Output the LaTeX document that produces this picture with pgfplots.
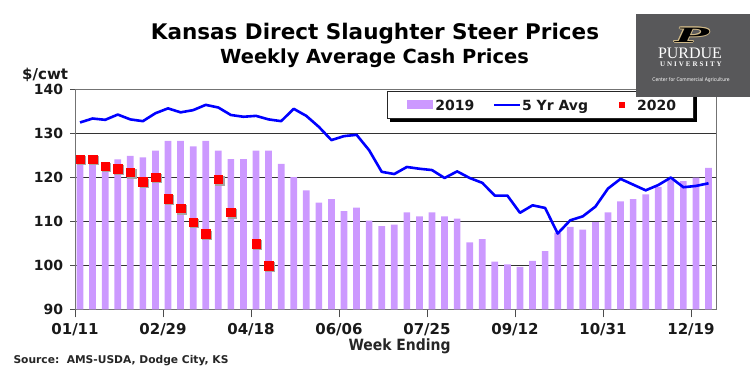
\documentclass[border=0pt]{standalone}
\usepackage{fontspec}
\usepackage{graphicx}
\usepackage{pgfplots}
\pgfplotsset{compat=1.18}
\setmainfont{DejaVu Sans}
\newfontfamily\condfont{DejaVu Sans Condensed}
\newfontfamily\seriffont{Liberation Serif}
\newfontfamily\unifont{Liberation Serif}[LetterSpace=28]
\definecolor{barpurple}{RGB}{204,153,255}
\definecolor{lineblue}{RGB}{0,0,255}
\definecolor{purduegray}{RGB}{88,88,90}
\definecolor{purduegold}{RGB}{206,184,136}

\pgfplotstableread{
x y
0.4 124.3
1.4 124.0
2.4 122.8
3.4 124.0
4.4 124.8
5.4 124.5
6.4 126.0
7.4 128.2
8.4 128.2
9.4 127.0
10.4 128.2
11.4 126.0
12.4 124.1
13.4 124.1
14.4 126.0
15.4 126.0
16.4 123.0
17.4 120.0
18.4 117.0
19.4 114.2
20.4 115.0
21.4 112.3
22.4 113.1
23.4 110.1
24.4 108.9
25.4 109.2
26.4 112.0
27.4 111.1
28.4 112.0
29.4 111.1
30.4 110.6
31.4 105.2
32.4 105.9
33.4 100.8
34.4 100.2
35.4 99.6
36.4 101.0
37.4 103.2
38.4 107.4
39.4 108.7
40.4 108.1
41.4 109.8
42.4 112.0
43.4 114.5
44.4 115.0
45.4 116.1
46.4 117.8
47.4 119.3
48.4 119.1
49.4 119.9
50.4 122.1
}\bars

\pgfplotstableread{
x y
0.4 132.4
1.4 133.3
2.4 133.0
3.4 134.2
4.4 133.1
5.4 132.7
6.4 134.5
7.4 135.6
8.4 134.7
9.4 135.2
10.4 136.4
11.4 135.8
12.4 134.1
13.4 133.7
14.4 133.9
15.4 133.1
16.4 132.7
17.4 135.5
18.4 133.9
19.4 131.4
20.4 128.4
21.4 129.3
22.4 129.6
23.4 126.1
24.4 121.2
25.4 120.7
26.4 122.3
27.4 121.9
28.4 121.6
29.4 119.8
30.4 121.3
31.4 119.8
32.4 118.7
33.4 115.8
34.4 115.8
35.4 111.9
36.4 113.6
37.4 113.0
38.4 107.2
39.4 110.2
40.4 111.1
41.4 113.3
42.4 117.4
43.4 119.6
44.4 118.3
45.4 117.0
46.4 118.2
47.4 119.9
48.4 117.7
49.4 118.0
50.4 118.6
}\fiveyr

\pgfplotstableread{
x y
0.4 124.1
1.4 124.1
2.4 122.5
3.4 121.9
4.4 121.1
5.4 118.9
6.4 120.0
7.4 115.1
8.4 112.9
9.4 109.8
10.4 107.1
11.4 119.5
12.4 112.0
14.4 104.9
15.4 99.9
}\twenty

\begin{document}
\begin{tikzpicture}[x=1pt,y=1pt]
\begin{axis}[
  at={(75pt,64.7pt)}, anchor=south west,
  width=641.7pt, height=220.3pt, scale only axis,
  xmin=0, xmax=51.05, ymin=90, ymax=140,
  xtick={0,7,14,21,28,35,42,49},
  xticklabels={01/11,02/29,04/18,06/06,07/25,09/12,10/31,12/19},
  ytick={90,100,110,120,130,140},
  ymajorgrids,
  major grid style={black!80, line width=0.8pt},
  axis line style={black!55, line width=0.8pt},
  tick pos=left, tick align=outside,
  xtick style={black!70, line width=0.8pt, /pgfplots/major tick length=8pt},
  ytick style={black!70, line width=0.8pt, /pgfplots/major tick length=5pt},
  /pgf/number format/assume math mode=true,
  yticklabel style={font=\bfseries\fontsize{14}{14}\selectfont, text=black!90, xshift=-4pt},
  xticklabel style={font=\bfseries\fontsize{15}{15}\selectfont, text=black!90, yshift=-6pt},
  xlabel={Week Ending},
  xlabel style={font=\condfont\bfseries\fontsize{15.5}{15.5}\selectfont, at={(axis description cs:0.5057,-0.1848)}, anchor=base, inner sep=0pt, text=black!85},
  ylabel={\$/cwt},
  ylabel style={font=\bfseries\fontsize{15}{15}\selectfont, at={(axis description cs:-0.0826,1.045)}, anchor=base west, rotate=-90, inner sep=0pt, text=black!90},
  clip mode=individual,
  legend columns=3,
  legend cell align=left,
  legend style={name=leg, at={(axis description cs:0.4867,0.9909)}, anchor=north west,
    draw=black!85, line width=0.8pt, fill=white, inner xsep=0pt, inner ysep=8.5pt,
    font=\bfseries\fontsize{14}{14}\selectfont, text=black!90,
    nodes={inner sep=0pt, text height=10.2pt, text depth=0pt}},
]
\addplot[ybar, bar width=6.7pt, bar shift=0pt, fill=barpurple, draw=none,
  legend image code/.code={\path[draw=none,fill=none] (0pt,-1pt) rectangle (47.7pt,1pt); \fill[barpurple] (19.4pt,-4.5pt) rectangle (45pt,4.5pt);}]
  table[x=x,y=y] {\bars};
\addlegendentry{2019}
\addplot[lineblue, line width=2.6pt, line join=round, mark=none,
  legend image code/.code={\path[draw=none,fill=none] (0pt,-1pt) rectangle (47.7pt,1pt); \draw[lineblue, line width=2.2pt] (20pt,0pt) -- (46pt,0pt);}]
  table[x=x,y=y] {\fiveyr};
\addlegendentry{5 Yr Avg}
\addplot[only marks, mark=square*, mark size=4.3pt, color=black!35, draw=none,
  mark options={xshift=1.2pt, yshift=-1.2pt}, forget plot]
  table[x=x,y=y] {\twenty};
\addplot[only marks, mark=square*, mark size=4.3pt, color=red, draw=none,
  legend image code/.code={\path[draw=none,fill=none] (0pt,-1pt) rectangle (49.1pt,1pt); \fill[red] (30.8pt,-3pt) rectangle (36.8pt,3pt);}]
  table[x=x,y=y] {\twenty};
\addlegendentry{2020\hspace*{17pt}}
\end{axis}

% legend shadow
\fill[black] ([shift={(3pt,0pt)}]leg.south west) rectangle ([shift={(3pt,-3pt)}]leg.south east);
\fill[black] ([shift={(0pt,-3pt)}]leg.north east) rectangle ([shift={(3pt,0pt)}]leg.south east);

% titles
\node[font=\bfseries\fontsize{21.5}{21.5}\selectfont, anchor=base, inner sep=0pt] at (375,334) {Kansas Direct Slaughter Steer Prices};
\node[font=\bfseries\fontsize{19.4}{19.4}\selectfont, anchor=base, inner sep=0pt] at (374.5,310) {Weekly Average Cash Prices};
\node[font=\bfseries\fontsize{10.7}{10.7}\selectfont, anchor=base west, inner sep=0pt, text=black!85] at (13.3,10.7) {Source:\ \ AMS-USDA, Dodge City, KS};

% Purdue box
\fill[purduegray] (636,277) rectangle (750,360);
\foreach \dx/\dy in {-1/0,1/0,0/-1,0/1,-0.8/-0.8,0.8/0.8,-0.8/0.8,0.8/-0.8}{
  \node[text=purduegold, font=\seriffont\bfseries\itshape\fontsize{22}{22}\selectfont, inner sep=0pt] at ([shift={(\dx,\dy)}]691.5,339) {\scalebox{2.6}[1]{P}};
}
\node[text=black, font=\seriffont\bfseries\itshape\fontsize{22}{22}\selectfont, inner sep=0pt] at (691.5,339) {\scalebox{2.6}[1]{P}};
\node[text=white, font=\seriffont\fontsize{16}{16}\selectfont, anchor=base, inner sep=0pt] at (690,315) {PURDUE};
\node[text=white, font=\unifont\bfseries\fontsize{7}{7}\selectfont, anchor=base, inner sep=0pt] at (691,307) {UNIVERSITY};
\node[text=white, font=\condfont\fontsize{5}{5}\selectfont, anchor=base, inner sep=0pt] at (691,292) {Center for Commercial Agriculture};

\pgfresetboundingbox
\useasboundingbox (0,0) rectangle (750,374);
\end{tikzpicture}
\end{document}
